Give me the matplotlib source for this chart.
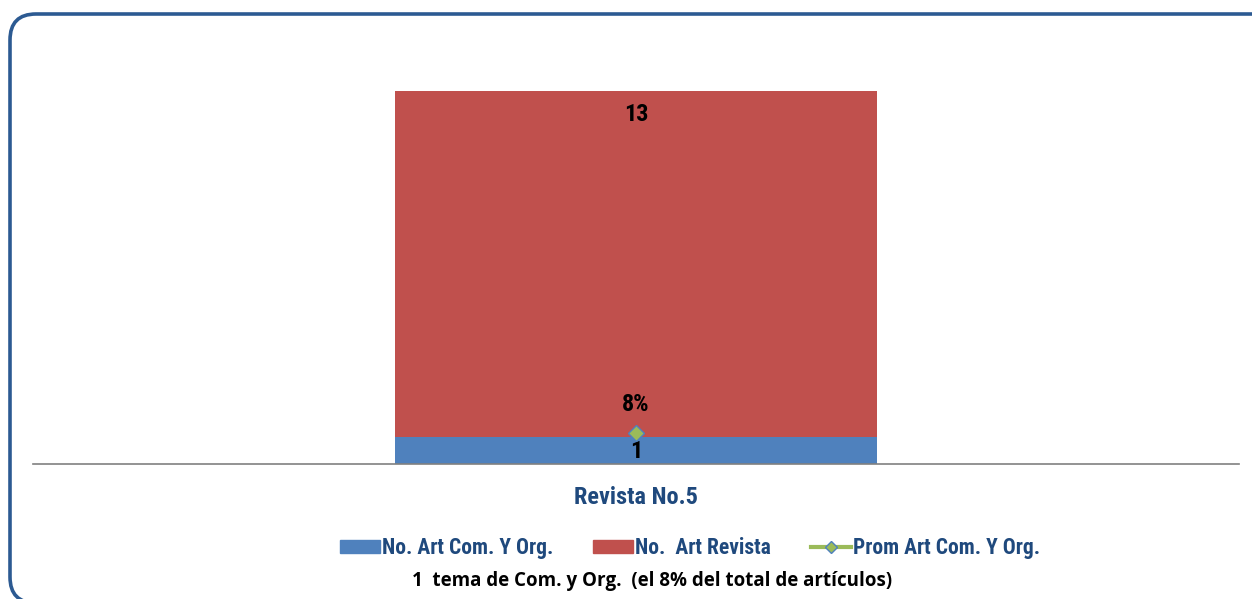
import numpy as np
import matplotlib.pyplot as plt
from matplotlib import font_manager
from matplotlib.patches import FancyBboxPatch
from matplotlib.lines import Line2D
from matplotlib.patches import Patch

#%% Datos
categorias = ['Revista No.5']
art_com_org = [1]
art_revista = [13]
prom_com_org = [1/13]

azul = '#4f81bd'
rojo = '#c0504d'
verde = '#9bbb59'
azul_txt = '#1f497d'

nombres = {f.name for f in font_manager.fontManager.ttflist}
fuente = [n for n in ['Liberation Sans Narrow', 'Roboto Condensed', 'DejaVu Sans Condensed']
          if n in nombres] + ['DejaVu Sans']

#%% Figura
fig = plt.figure(figsize=(12.52, 5.99), dpi=100)

# marco redondeado (en pixeles)
marco = FancyBboxPatch((10, -4), 1300, 589,
                       boxstyle='round,pad=0,rounding_size=26',
                       transform=None, fill=False,
                       edgecolor='#2c5a92', linewidth=2.6)
fig.patches.append(marco)

ax = fig.add_axes([33/1252, 135/599, 1206/1252, 400/599])
x = np.arange(len(categorias))
ax.bar(x, art_com_org, width=0.4, color=azul)
ax.bar(x, art_revista, width=0.4, bottom=art_com_org, color=rojo)
ax.set_xlim(-0.5, 0.5)
ax.set_ylim(0, 15)
for s in ['top', 'right', 'left']:
    ax.spines[s].set_visible(False)
ax.spines['bottom'].set_color('#808080')
ax.spines['bottom'].set_linewidth(1.2)
ax.set_yticks([])
ax.set_xticks(x)
ax.set_xticklabels(categorias, color=azul_txt, fontsize=17.5, fontweight='bold', family=fuente)
ax.tick_params(axis='x', length=0, pad=16)

# etiquetas de valor
for xi, a, r in zip(x, art_com_org, art_revista):
    ax.text(xi, a/2 - 0.05, str(a), ha='center', va='center', fontsize=17.5, fontweight='bold', family=fuente)
    ax.text(xi, a + r - 0.9, str(r), ha='center', va='center', fontsize=17.5, fontweight='bold', family=fuente)

# promedio en eje secundario
ax2 = ax.twinx()
ax2.set_ylim(0, 1)
ax2.axis('off')
ax2.plot(x, prom_com_org, color=verde, marker='D', markersize=8,
         markerfacecolor=verde, markeredgecolor=azul, markeredgewidth=1, linewidth=3)
for xi, p in zip(x, prom_com_org):
    ax2.text(xi, p + 0.073, '{:.0f}%'.format(p*100), ha='center', va='center',
             fontsize=17.5, fontweight='bold', family=fuente)

# leyenda
handles = [Patch(color=azul, label='No. Art Com. Y Org.'),
           Patch(color=rojo, label='No.  Art Revista'),
           Line2D([0], [0], color=verde, lw=3, marker='D', markersize=6,
                  markerfacecolor=verde, markeredgecolor=azul, label='Prom Art Com. Y Org.')]
leg = fig.legend(handles=handles, loc='center', bbox_to_anchor=(690/1252, 1 - 548/599),
                 ncol=3, frameon=False, handlelength=1.85, handleheight=0.55,
                 handletextpad=0.1, columnspacing=1.85,
                 prop={'family': fuente, 'weight': 'bold', 'size': 15.5})
for t in leg.get_texts():
    t.set_color(azul_txt)

fig.text(652/1252, 1 - 581/599, '1  tema de Com. y Org.  (el 8% del total de artículos)',
         ha='center', va='center', fontsize=13.5, fontweight='bold', family=['Open Sans', 'DejaVu Sans'])

fig.savefig('out.png', dpi=100)
